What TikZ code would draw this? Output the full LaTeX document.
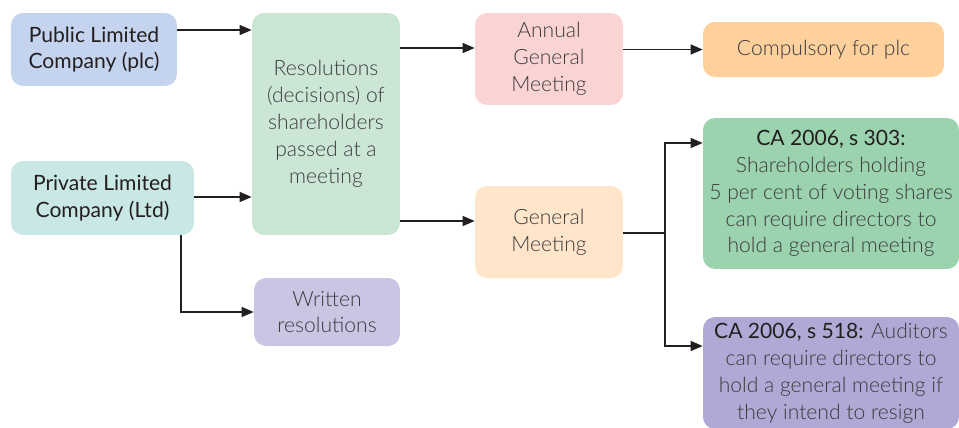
\documentclass[tikz,border=0pt]{standalone}
\usepackage{fontspec}
\setmainfont{Lato}[UprightFont=* Light]
\newfontfamily\headfont{Lato}
\usetikzlibrary{arrows.meta,positioning}

\definecolor{plcblue}{HTML}{C5D4EE}
\definecolor{ltdteal}{HTML}{C9E7E5}
\definecolor{resgreen}{HTML}{CCE6D6}
\definecolor{wrviolet}{HTML}{C9C5E3}
\definecolor{agmpink}{HTML}{FAD3D3}
\definecolor{compor}{HTML}{FED09C}
\definecolor{gmpeach}{HTML}{FFE5CA}
\definecolor{sgreen}{HTML}{9BD3AE}
\definecolor{sviolet}{HTML}{B0A9D5}
\definecolor{txt}{HTML}{3C3B3D}
\definecolor{lin}{HTML}{231F20}

\begin{document}
\begin{tikzpicture}[
x=0.02cm, y=-0.02cm,
box/.style={
  rounded corners=0.24cm,
  draw=none,
  align=center,
  inner sep=0pt,
  text=txt,
  font=\fontsize{12}{15.3}\selectfont
  },
firm/.style={
  box,
  text=lin,
  font=\fontsize{12}{15.3}\headfont
  },
link/.style={
  draw=lin,
  line width=0.7pt,
  -{Triangle[length=0.24cm,width=0.2cm]}
  }
]
\useasboundingbox (0,0) rectangle (959,427);

% left column
\node[firm, fill=plcblue, minimum width=3.32cm, minimum height=1.46cm] (plc) at (94,49.5)
  {Public Limited\\ Company (plc)};
\node[firm, fill=ltdteal, minimum width=3.66cm, minimum height=1.48cm] (ltd) at (102.5,198)
  {Private Limited\\ Company (Ltd)};

% middle column
\node[box, fill=resgreen, minimum width=2.96cm, minimum height=4.44cm] (res) at (326,124)
  {Resolutions\\ (decisions) of\\ shareholders\\ passed at a\\ meeting};
\node[box, fill=wrviolet, minimum width=2.92cm, minimum height=1.36cm] (written) at (327,312)
  {Written\\ resolutions};

% meetings
\node[box, fill=agmpink, minimum width=2.96cm, minimum height=1.84cm] (agm) at (549,59)
  {Annual\\ General\\ Meeting};
\node[box, fill=gmpeach, minimum width=2.96cm, minimum height=1.84cm] (gm) at (549,232)
  {General\\ Meeting};

% right column
\node[box, fill=compor, minimum width=4.82cm, minimum height=1.10cm] (comp) at (823.5,49.5)
  {Compulsory for plc};
\node[box, fill=sgreen, minimum width=5.12cm, minimum height=3.02cm] (s303) at (831,193.5)
  {{\headfont\color{lin}CA 2006, s 303:}\\ Shareholders holding\\ 5 per cent of voting shares\\ can require directors to\\ hold a general meeting};
\node[box, fill=sviolet, minimum width=5.12cm, minimum height=2.24cm] (s518) at (831,373)
  {{\headfont\color{lin}CA 2006, s 518:} Auditors\\ can require directors to\\ hold a general meeting if\\ they intend to resign};

% connectors
\draw[link] (plc.east |- 0,30) -- (res.west |- 0,30);
\draw[link] (ltd.east |- 0,197) -- (res.west |- 0,197);
\draw[link] (181,235) |- (written.west);
\draw[link] (res.east |- 0,48) -- (agm.west |- 0,48);
\draw[link] (res.east |- 0,221) -- (gm.west |- 0,221);
\draw[link] (agm.east |- comp.west) -- (comp.west);

\coordinate (fork) at (665,233);
\draw[draw=lin, line width=0.7pt] (gm.east |- fork) -- (fork);
\draw[link] (fork) |- (s303.west |- 0,143);
\draw[link] (fork) |- (s518.west |- 0,346);

\end{tikzpicture}
\end{document}
